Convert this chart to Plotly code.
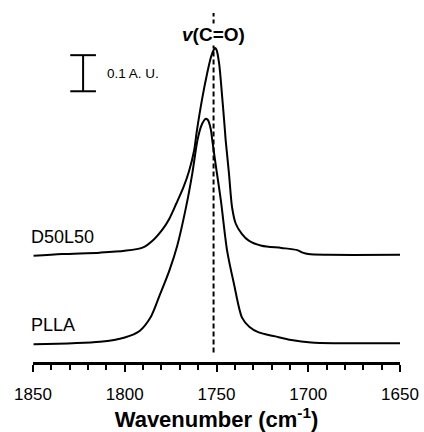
import plotly.graph_objects as go

# Wavenumber (cm^-1) and absorbance (A.U.)
d50_wn = [1849.7, 1834.1, 1813.5, 1800.0, 1790.3, 1784.9, 1779.2, 1775.7, 1771.9, 1768.1,
          1764.9, 1762.2, 1760.8, 1757.9, 1755.0, 1753.0, 1751.5, 1750.8, 1750.0, 1748.6,
          1746.9, 1745.4, 1745.0, 1743.2, 1741.5, 1739.5, 1736.2, 1732.4, 1725.4, 1714.6,
          1706.0, 1703.0, 1700.0, 1689.2, 1650.0]
d50_abs = [-0.003, 0.002, 0.006, 0.011, 0.020, 0.039, 0.072, 0.100, 0.142, 0.186,
           0.233, 0.289, 0.340, 0.430, 0.505, 0.548, 0.568, 0.573, 0.568, 0.531,
           0.437, 0.344, 0.317, 0.225, 0.131, 0.086, 0.058, 0.039, 0.025, 0.019,
           0.013, 0.006, 0.002, 0.000, 0.000]

plla_wn = [1849.7, 1813.5, 1800.0, 1791.9, 1786.0, 1781.1, 1775.7, 1771.4, 1766.6, 1763.2,
           1760.4, 1758.4, 1756.8, 1755.8, 1754.8, 1754.1, 1753.0, 1752.3, 1750.0, 1747.6,
           1744.2, 1740.5, 1736.1, 1732.0, 1727.0, 1718.0, 1709.2, 1698.4, 1685.6, 1650.0]
plla_abs = [-0.003, 0.004, 0.016, 0.034, 0.071, 0.131, 0.201, 0.270, 0.377, 0.470,
            0.562, 0.601, 0.617, 0.622, 0.619, 0.612, 0.590, 0.562, 0.479, 0.395,
            0.256, 0.165, 0.071, 0.045, 0.030, 0.019, 0.009, 0.002, 0.000, 0.000]

d50_offset = 0.245
marker_wn = 1751.6
scale_bar = 0.1
x_ticks = [1850, 1800, 1750, 1700, 1650]

fig = go.Figure()
line_style = dict(color="black", width=2)
fig.add_trace(go.Scatter(x=plla_wn, y=plla_abs, mode="lines", line=line_style,
                         line_shape="spline", line_smoothing=0.8, showlegend=False, hoverinfo="skip"))
fig.add_trace(go.Scatter(x=d50_wn, y=[v + d50_offset for v in d50_abs], mode="lines",
                         line=line_style, line_shape="spline", line_smoothing=0.8,
                         showlegend=False, hoverinfo="skip"))

# dashed marker line at the C=O band
fig.add_shape(type="line", x0=marker_wn, x1=marker_wn, y0=-0.026, y1=0.915,
              xref="x", yref="y", line=dict(color="black", width=2, dash="5px,3px"))

# scale bar
sb_x, sb_top = 1822.7, 0.798
fig.add_shape(type="line", x0=sb_x, x1=sb_x, y0=sb_top - scale_bar, y1=sb_top,
              line=dict(color="black", width=2))
for yy in (sb_top, sb_top - scale_bar):
    fig.add_shape(type="line", x0=1829.7, x1=1815.7, y0=yy, y1=yy,
                  line=dict(color="black", width=2))

font = "Liberation Sans, Arial, sans-serif"
fig.add_annotation(x=1810.5, y=sb_top - scale_bar / 2, text="0.1 A. U.", showarrow=False,
                   xanchor="left", yanchor="middle", font=dict(family=font, size=13.5, color="black"))
fig.add_annotation(x=-0.012, xref="paper", y=d50_offset + 0.05, text="D50L50", showarrow=False,
                   xanchor="left", yanchor="middle", font=dict(family=font, size=18, color="black"))
fig.add_annotation(x=-0.012, xref="paper", y=0.0015 + 0.05, text="PLLA", showarrow=False,
                   xanchor="left", yanchor="middle", font=dict(family=font, size=18, color="black"))
fig.add_annotation(x=marker_wn, y=0.855, text="<b><i>v</i>(C=O)</b>", showarrow=False,
                   xanchor="center", yanchor="middle", bgcolor="white", borderpad=0,
                   font=dict(family=font, size=19, color="black"))

fig.update_layout(
    width=424, height=432,
    margin=dict(l=32.5, r=21, t=5, b=70),
    paper_bgcolor="white", plot_bgcolor="white",
    xaxis=dict(range=[1850, 1650], tickvals=x_ticks, ticktext=[str(t) for t in x_ticks],
               showgrid=False, zeroline=False, showline=True, linecolor="black", linewidth=3,
               ticks="outside", ticklen=7, tickwidth=2, tickcolor="black", ticklabelstandoff=8,
               minor=dict(dtick=10, ticks="outside", ticklen=5, tickwidth=2, tickcolor="black", showgrid=False),
               tickfont=dict(family=font, size=17, color="black"),
               title=dict(text="<b>Wavenumber (cm<sup>-1</sup>)</b>", standoff=0,
                          font=dict(family=font, size=22, color="black"))),
    yaxis=dict(range=[-0.052, 0.937], visible=False),
)

fig.write_html("out.html")
